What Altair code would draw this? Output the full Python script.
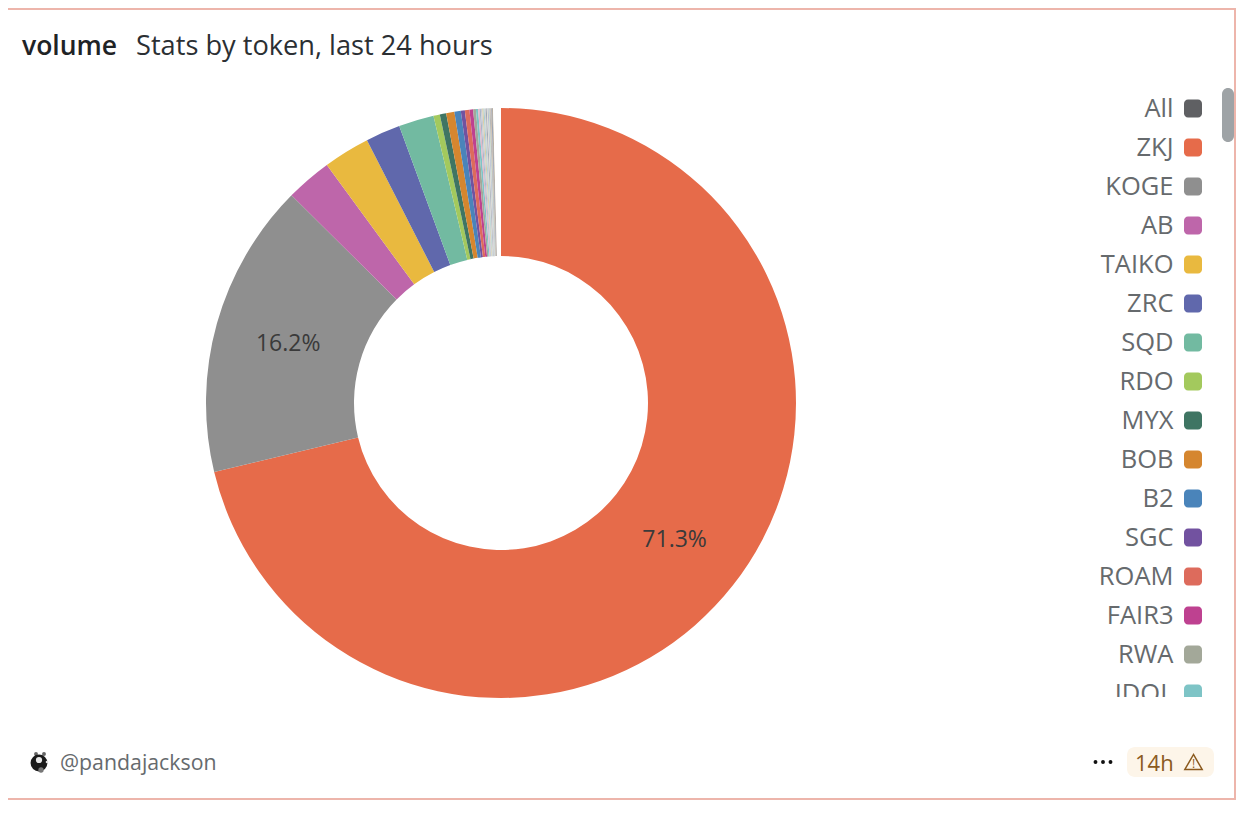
import altair as alt
import pandas as pd

tokens = ["ZKJ","KOGE","AB","TAIKO","ZRC","SQD","RDO","MYX","BOB","B2","SGC","ROAM","FAIR3","RWA","IDOL",
          "T16","T17","T18","T19","T20","T21","T22","T23","T24","T25","T26","T27","T28","T29","T30"]
shares = [71.3,16.2,2.52,2.55,1.9,1.93,0.35,0.35,0.45,0.35,0.22,0.25,0.2,0.15,0.12,
          0.08,0.07,0.07,0.07,0.06,0.06,0.06,0.05,0.05,0.05,0.05,0.05,0.05,0.04,0.43]
colors = ["#E66B4A","#8F8F8F","#BE66AA","#E9B93F","#6068AC","#72BAA1","#A3C95D","#3F7563","#D5862F","#4A84BA",
          "#7252A0","#DD6B5C","#BE4190","#A3A899","#7EC4C6",
          "#E5B5C9","#A8B8C8","#C9C9D5","#D9CFA8","#A9CDD5","#D5D0D0","#9FA9B4","#E0DCD0","#B0B7D0","#C7D9C9",
          "#AFAFAF","#C8B8A8","#8E9AAE","#A89880","#FFFFFF"]
legend_tokens = ["All"] + tokens[:15]
legend_colors = ["#5F6063"] + colors[:15]
labels = {"ZKJ":"71.3%","KOGE":"16.2%"}

W, H = 1228, 795
def px(v): return v - 11
def py(v): return v - 11

df = pd.DataFrame({"token":tokens,"share":shares,"idx":range(len(tokens))})
df["label"] = df["token"].map(labels).fillna("")
leg = pd.DataFrame({"token":legend_tokens,"row":range(len(legend_tokens)),"color":legend_colors})

FONT = "Open Sans"
cscale = alt.Scale(domain=tokens, range=colors)
theta = alt.Theta("share:Q", stack=True, scale=alt.Scale(domain=[0,sum(shares)], range=[0,6.283185307]))
cx, cy = alt.value(px(501)), alt.value(py(403))

arcs = alt.Chart(df).mark_arc(radius=295, radius2=147).encode(
    theta=theta, order=alt.Order("idx:Q"), x=cx, y=cy,
    color=alt.Color("token:N", scale=cscale, legend=None))
pct = alt.Chart(df).mark_text(radius=221, font=FONT, fontSize=23, color="#3a3a3a").encode(
    theta=theta, order=alt.Order("idx:Q"), detail="token:N", x=cx, y=cy, text="label:N")

rowy = alt.Y("row:Q", axis=None, scale=alt.Scale(domain=[0,15], range=[py(108.5),py(693.5)]))
legtext = alt.Chart(leg).mark_text(align="right", baseline="middle", font=FONT, fontSize=25.5, color="#666a6d").encode(
    x=alt.value(px(1173.5)), y=rowy, text="token:N")
legsq = alt.Chart(leg).mark_rect(width=18, height=18, cornerRadius=4, opacity=1).encode(
    x=alt.value(px(1193)), y=rowy, color=alt.Color("color:N", scale=None))

def txt(s, x, y, size, color, weight=400, align="left", font=FONT):
    return alt.Chart(pd.DataFrame({"t":[s]})).mark_text(align=align, baseline="middle", font=font, fontSize=size,
        color=color, fontWeight=weight).encode(x=alt.value(px(x)), y=alt.value(py(y)), text="t:N")

def box(x, x2, y, y2, fill, r=0, stroke=None, sw=0):
    kw = dict(cornerRadius=r, fill=fill, strokeWidth=sw, opacity=1)
    if stroke: kw["stroke"] = stroke
    return alt.Chart(pd.DataFrame({"a":[0]})).mark_rect(**kw).encode(
        x=alt.value(px(x)), x2=alt.value(px(x2)), y=alt.value(py(y)), y2=alt.value(py(y2)))

def dot(x, y, r, color):
    return alt.Chart(pd.DataFrame({"a":[0]})).mark_circle(size=3.14159*r*r, color=color, opacity=1).encode(
        x=alt.value(px(x)), y=alt.value(py(y)))

mask = box(1080, 1210, 697, 735, "#ffffff")
frame = box(7, 1235, 9, 799, "transparent", 0, "#EDB5AB", 2)
scroll = box(1222, 1234, 88, 142, "#9EA3A6", 6)
badge = box(1127, 1214, 747, 777, "#FDF5E9", 8)

avatar = [dot(36,754,2.2,"#666666"), dot(44,754,2.2,"#666666"), dot(39,763,9.5,"#1b1b1b"),
          dot(39,760,3.5,"#e8e8e8"), dot(41,770,3,"#777777"), dot(47,762,1.5,"#e0e0e0")]
warn = alt.Chart(pd.DataFrame({"a":[0]})).mark_point(shape="triangle-up", size=300, filled=False,
    color="#8B5A1E", strokeWidth=1.5, opacity=1).encode(x=alt.value(px(1193.5)), y=alt.value(py(762)))

chart = alt.layer(
    arcs, pct, legtext, legsq, mask, scroll, frame,
    txt("volume", 22, 47, 26.5, "#1f2326", 600),
    txt("Stats by token, last 24 hours", 136, 47, 27.2, "#2b2f33"),
    *avatar,
    txt("@pandajackson", 60, 764, 21.3, "#666a6d"),
    dot(1095.5,762,2.2,"#111111"), dot(1103,762,2.2,"#111111"), dot(1110.5,762,2.2,"#111111"),
    badge,
    txt("14h", 1135, 763.5, 22, "#8B5A1E"),
    warn,
    txt("!", 1193.5, 764, 12, "#8B5A1E", 500, "center"),
).resolve_scale(color="independent").properties(width=W, height=H,
    padding={"left":3,"top":3,"right":0,"bottom":0}, autosize="none"
).configure_view(stroke=None)

chart.save("out.html", embed_options={"renderer": "svg", "actions": False})
